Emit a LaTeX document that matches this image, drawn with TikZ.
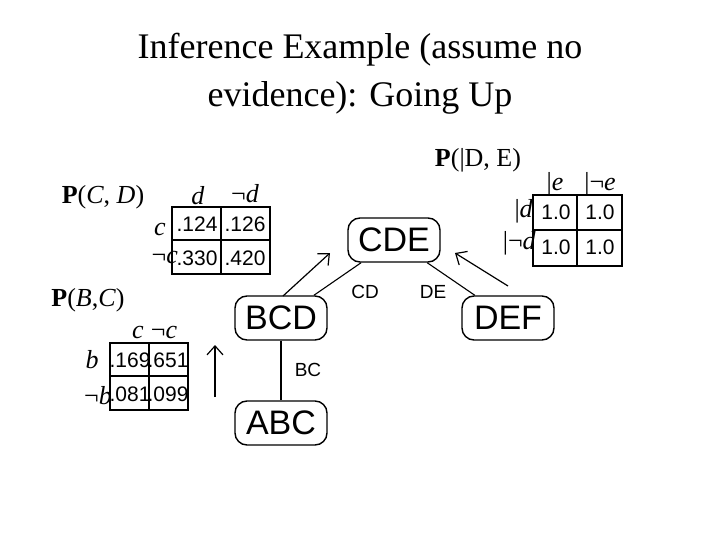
\documentclass[tikz,border=0pt]{standalone}
\usepackage{fontspec}
\setmainfont{Liberation Serif}
\setsansfont{Liberation Sans}
\usetikzlibrary{arrows.meta}
\begin{document}
\begin{tikzpicture}[x=1pt,y=-1pt,
  clique/.style={draw,line width=1.4pt,rounded corners=12pt,minimum width=92pt,minimum height=44pt,font=\sffamily\fontsize{34}{34}\selectfont,inner sep=0pt},
  num/.style={font=\sffamily\fontsize{21}{21}\selectfont,inner sep=0pt},
  sep/.style={font=\sffamily\fontsize{19}{19}\selectfont,inner sep=0pt},
  lab/.style={font=\fontsize{26}{26}\selectfont,inner sep=0pt},
  grid/.style={line width=1.4pt},
  arr/.style={-{Straight Barb[length=9pt,width=16pt]},line width=1.2pt}]
\useasboundingbox (0,0) rectangle (720,540);
\node[font=\fontsize{36}{48}\selectfont,align=center] (title) at (360,74) {Inference Example (assume no\\evidence): Going Up};
% cliques
\node[clique] (CDE) at (394,240) {CDE};
\node[clique] (BCD) at (281,318) {BCD};
\node[clique] (DEF) at (508,318) {DEF};
\node[clique] (ABC) at (281,423) {ABC};
\draw[line width=1.1pt] (BCD) -- (CDE);
\draw[line width=1.1pt] (CDE) -- (DEF);
\draw[line width=1.1pt] (BCD) -- (ABC);
\node[sep] (sCD) at (365,292) {CD};
\node[sep] (sDE) at (433,292) {DE};
\node[sep] (sBC) at (308,370) {BC};
% message arrows
\coordinate (a1s) at (283,296); \coordinate (a1e) at (330,253);
\coordinate (a2s) at (508,286); \coordinate (a2e) at (455,253);
\coordinate (a3s) at (215,397); \coordinate (a3e) at (215,345);
\draw[arr] (a1s) -- (a1e);
\draw[arr] (a2s) -- (a2e);
\draw[arr] (a3s) -- (a3e);
% table C,D
\node[lab] (tCD) at (103,197) {\textbf{P}(\textit{C}, \textit{D})};
\draw[grid] (172,207) rectangle (270,274) (221,207) -- (221,274) (172,240) -- (270,240);
\node[lab] (hd) at (198,196) {\textit{d}};
\node[lab] (hnd) at (245,194) {¬\textit{d}};
\node[lab] (rc) at (160,230) {\textit{c}};
\node[lab,anchor=east] (rnc) at (178,258) {¬\textit{c}};
\node[num] (n1) at (197,224) {.124};
\node[num] (n2) at (245,224) {.126};
\node[num] (n3) at (197,258) {.330};
\node[num] (n4) at (245,258) {.420};
% table B,C
\node[lab] (tBC) at (88,300) {\textbf{P}(\textit{B},\textit{C})};
\draw[grid] (110,343) rectangle (188,410) (149,343) -- (149,410) (110,376) -- (188,376);
\node[lab] (hc) at (138,333) {\textit{c}};
\node[lab] (hnc) at (164,333) {¬\textit{c}};
\node[lab] (rb) at (92,360) {\textit{b}};
\node[lab,anchor=east] (rnb) at (112,396) {¬\textit{b}};
\node[num] (m1) at (130,360) {.169};
\node[num] (m2) at (168,360) {.651};
\node[num] (m3) at (130,394) {.081};
\node[num] (m4) at (168,394) {.099};
% table D,E
\node[lab] (tDE) at (478,160) {\textbf{P}(|D, E)};
\draw[grid] (533,195) rectangle (622,266) (577,195) -- (577,266) (533,230) -- (622,230);
\node[lab] (he) at (555,184) {|\textit{e}};
\node[lab] (hne) at (600,184) {|¬\textit{e}};
\node[lab,anchor=east] (rd) at (533,211) {|\textit{d}};
\node[lab,anchor=east] (rnd) at (536,243) {|¬\textit{d}};
\node[num] (k1) at (556,212) {1.0};
\node[num] (k2) at (600,212) {1.0};
\node[num] (k3) at (556,247) {1.0};
\node[num] (k4) at (600,247) {1.0};
\end{tikzpicture}
\end{document}
